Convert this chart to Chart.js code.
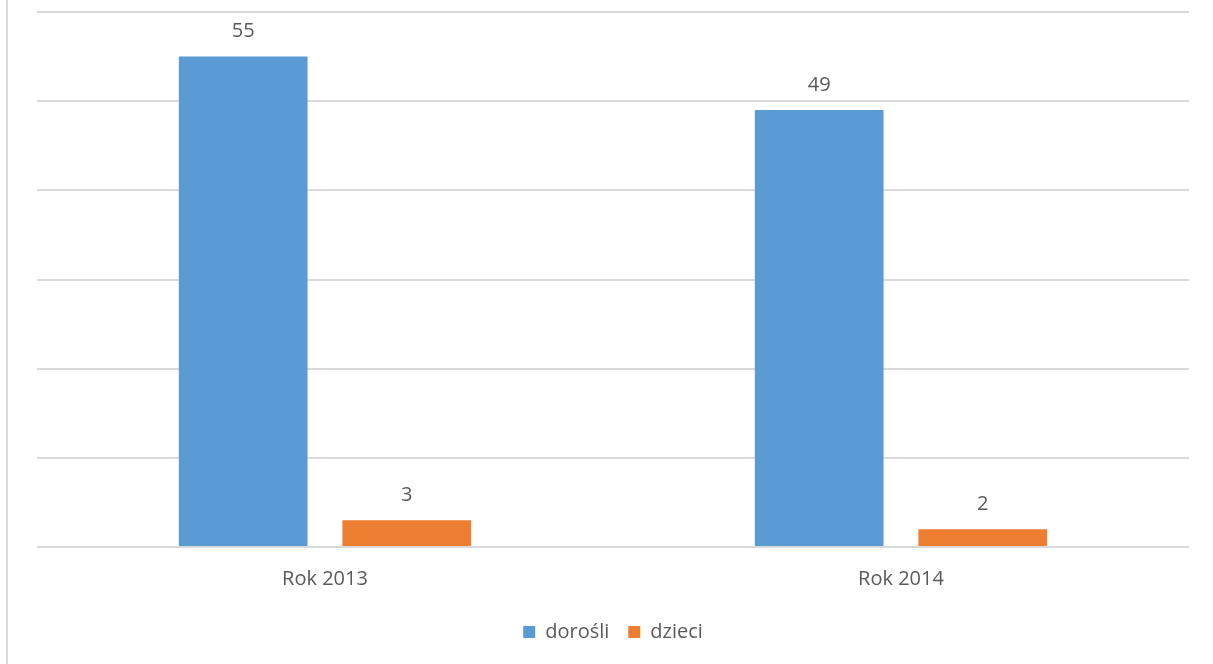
<!DOCTYPE html>
<html>
<head>
<meta charset="utf-8">
<script src="https://cdn.jsdelivr.net/npm/chart.js@4"></script>
<style>
  body { margin: 0; background: #fff; }
  #wrap { position: relative; width: 1213px; height: 664px; }
  #frame { position: absolute; left: 6px; top: 0; width: 2px; height: 664px; background: #d9d9d9; }
</style>
</head>
<body>
<div id="wrap">
  <div id="frame"></div>
  <canvas id="barChart" width="1213" height="664"></canvas>
</div>
<script>
// Categories and series
const categories = ["Rok 2013", "Rok 2014"];
const adultsValues = [55, 49]; // dorośli
const childrenValues = [3, 2]; // dzieci
const seriesLabels = ["dorośli", "dzieci"];
const seriesColors = ["#5B9BD5", "#ED7D31"];

const textColor = "#595959";
const fontFamily = "'Open Sans', sans-serif";

// Simple plugin to write the values above the bars
const valueLabels = {
  id: "valueLabels",
  afterDatasetsDraw(chart) {
    const ctx = chart.ctx;
    ctx.save();
    ctx.fillStyle = textColor;
    ctx.font = "20px " + fontFamily;
    ctx.textAlign = "center";
    ctx.textBaseline = "middle";
    chart.data.datasets.forEach((ds, i) => {
      chart.getDatasetMeta(i).data.forEach((bar, j) => {
        ctx.fillText(ds.data[j], bar.x, bar.y - 25);
      });
    });
    ctx.restore();
  },
};

const ctx = document.getElementById("barChart").getContext("2d");
new Chart(ctx, {
  type: "bar",
  data: {
    labels: categories,
    datasets: [
      {
        label: seriesLabels[0],
        data: adultsValues,
        backgroundColor: seriesColors[0],
        categoryPercentage: 0.568,
        barPercentage: 0.787,
      },
      {
        label: seriesLabels[1],
        data: childrenValues,
        backgroundColor: seriesColors[1],
        categoryPercentage: 0.568,
        barPercentage: 0.787,
      },
    ],
  },
  options: {
    responsive: false,
    animation: false,
    layout: {
      padding: { left: 37, right: 24, top: 12, bottom: 12 },
    },
    scales: {
      x: {
        grid: { display: false },
        border: { display: false },
        ticks: {
          color: textColor,
          font: { size: 20, family: fontFamily },
          padding: 12,
        },
      },
      y: {
        min: 0,
        max: 60,
        ticks: { display: false, stepSize: 10 },
        border: { display: false },
        grid: { color: "#d9d9d9", lineWidth: 2, drawTicks: false },
      },
    },
    plugins: {
      tooltip: { enabled: false },
      legend: {
        position: "bottom",
        labels: {
          color: textColor,
          boxWidth: 12,
          boxHeight: 12,
          padding: 19,
          font: { size: 20, family: fontFamily },
        },
      },
    },
  },
  plugins: [valueLabels],
});
</script>
</body>
</html>
